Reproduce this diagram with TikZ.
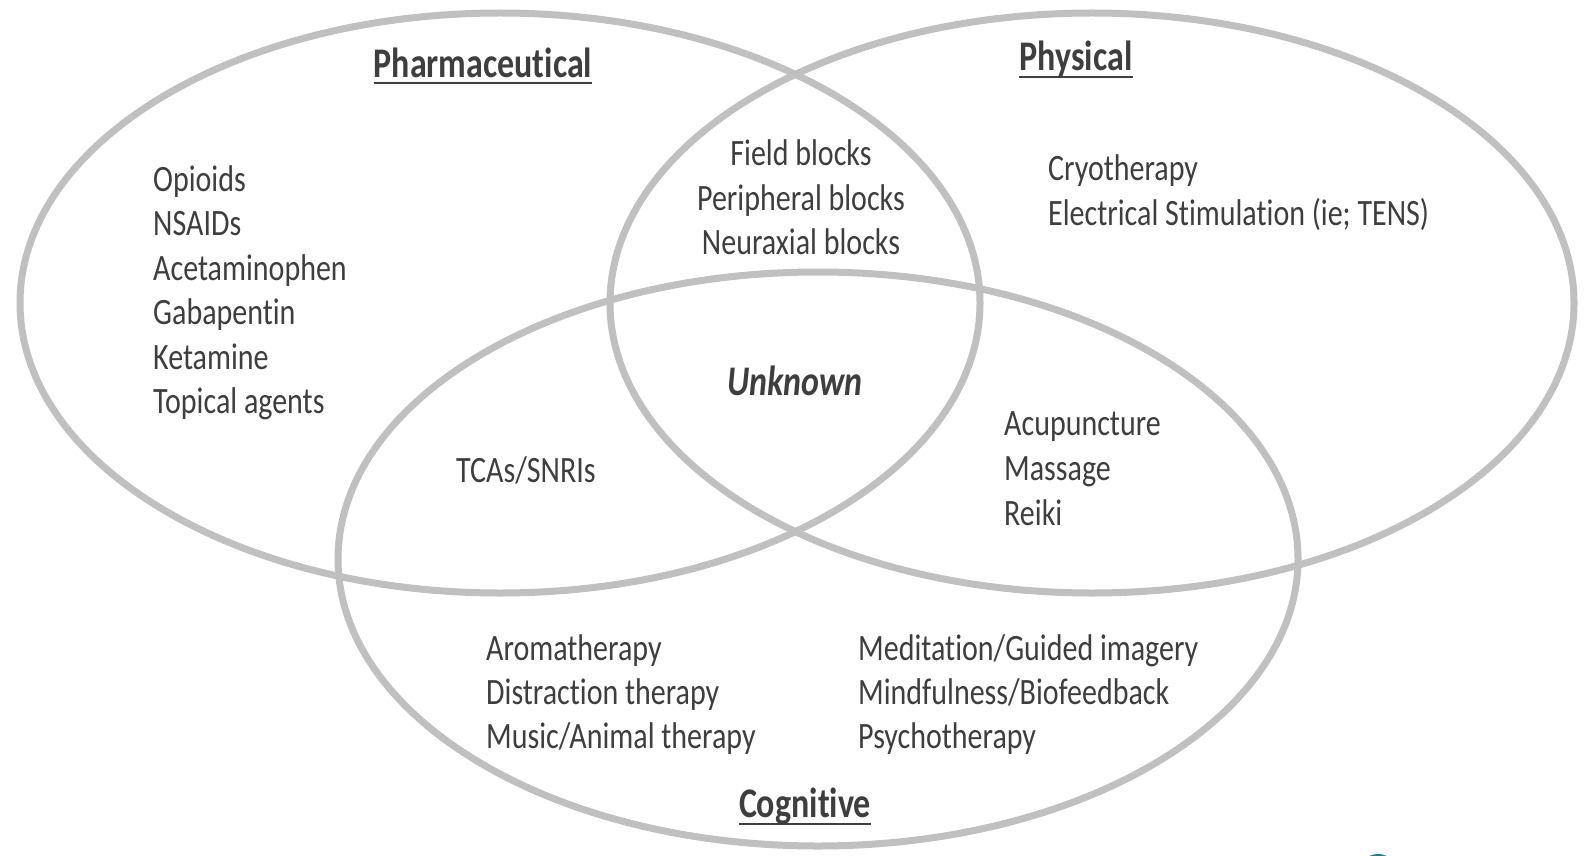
\documentclass[tikz,border=0pt]{standalone}
\usepackage{fontspec}
\setmainfont{Carlito}[RawFeature={-liga}]
\usetikzlibrary{calc}
\definecolor{ringc}{RGB}{192,192,192}
\definecolor{ink}{RGB}{62,62,62}
\definecolor{logoc}{RGB}{0,140,160}
\newcommand\tallb[1]{\scalebox{1}[1.24]{#1}}
\tikzset{
  ring/.style={draw=ringc, line width=7pt},
  item/.style={inner sep=0pt, anchor=base west, text=ink, font=\fontsize{30}{36}\selectfont},
  citem/.style={item, anchor=base},
  title/.style={inner sep=0pt, anchor=base, text=ink, font=\fontsize{34}{40}\selectfont\bfseries},
  uline/.style={draw=ink, line width=2.5pt}
}
\begin{document}
\begin{tikzpicture}[x=1pt,y=-1pt]
\useasboundingbox (0,0) rectangle (1592,856);
\fill[white] (0,0) rectangle (1592,856);
\begin{scope}
  \clip (0,0) rectangle (1592,856);
  \fill[logoc] (1378,874) circle (20);
\end{scope}
% ellipses
\draw[ring] (500,303) ellipse [x radius=480pt, y radius=290pt];
\draw[ring] (1092,303) ellipse [x radius=482pt, y radius=290pt];
\draw[ring] (818,559) ellipse [x radius=480pt, y radius=287pt];
% titles
\node[title] (pharm) at (483,78) {\tallb{Pharmaceutical}};
\draw[uline] ($(pharm.base west)+(0,5)$) -- ($(pharm.base east)+(0,5)$);
\node[title] (phys) at (1076,71) {\tallb{Physical}};
\draw[uline] ($(phys.base west)+(0,6)$) -- ($(phys.base east)+(0,6)$);
\node[title] (cogn) at (805,817) {\tallb{Cognitive}};
\draw[uline] ($(cogn.base west)+(0,7)$) -- ($(cogn.base east)+(0,7)$);
% pharmaceutical
\node[item] (p1) at (153,191) {\tallb{Opioids}};
\node[item] (p2) at (153,235.5) {\tallb{NSAIDs}};
\node[item] (p3) at (153,280) {\tallb{Acetaminophen}};
\node[item] (p4) at (153,324.5) {\tallb{Gabapentin}};
\node[item] (p5) at (153,369) {\tallb{Ketamine}};
\node[item] (p6) at (153,413.5) {\tallb{Topical agents}};
% blocks
\node[citem] (b1) at (801,165) {\tallb{Field blocks}};
\node[citem] (b2) at (801,210) {\tallb{Peripheral blocks}};
\node[citem] (b3) at (801,254) {\tallb{Neuraxial blocks}};
% physical
\node[item] (y1) at (1048,180) {\tallb{Cryotherapy}};
\node[item] (y2) at (1048,225) {\tallb{Electrical Stimulation (ie; TENS)}};
% unknown
\node[title, font=\fontsize{34}{40}\selectfont\bfseries\itshape] (unk) at (795,395) {\tallb{Unknown}};
% TCAs
\node[item] (tca) at (456,482) {\tallb{TCAs/SNRIs}};
% physical-cognitive
\node[item] (a1) at (1004,435) {\tallb{Acupuncture}};
\node[item] (a2) at (1004,480) {\tallb{Massage}};
\node[item] (a3) at (1004,525) {\tallb{Reiki}};
% cognitive
\node[item] (c1) at (486,660) {\tallb{Aromatherapy}};
\node[item] (c2) at (486,704) {\tallb{Distraction therapy}};
\node[item] (c3) at (486,748) {\tallb{Music/Animal therapy}};
\node[item] (m1) at (858,660) {\tallb{Meditation/Guided imagery}};
\node[item] (m2) at (858,704) {\tallb{Mindfulness/Biofeedback}};
\node[item] (m3) at (858,748) {\tallb{Psychotherapy}};
\end{tikzpicture}
\end{document}
